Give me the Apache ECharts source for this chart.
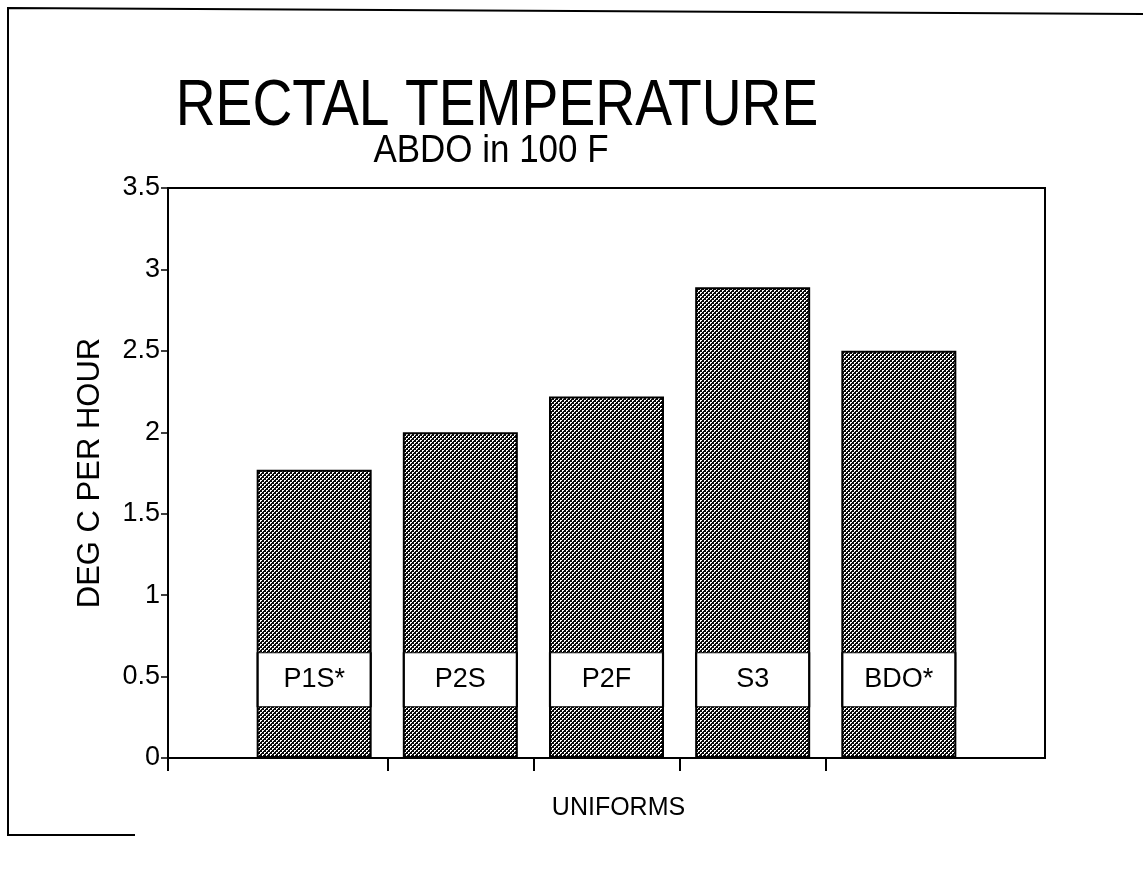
<!DOCTYPE html>
<html>
<head>
<meta charset="utf-8">
<script src="https://cdn.jsdelivr.net/npm/echarts@6/dist/echarts.min.js"></script>
<style>
  html, body { margin: 0; padding: 0; background: #fff; }
  #chart { width: 1143px; height: 869px; }
</style>
</head>
<body>
<div id="chart"></div>
<script>
// data
const categories = ['P1S*', 'P2S', 'P2F', 'S3', 'BDO*'];
const rates = [1.77, 2.0, 2.22, 2.89, 2.5];
const labelLevel = 0.48;           // where the name boxes sit on the y scale
const yTicks = [0, 0.5, 1, 1.5, 2, 2.5, 3, 3.5];
const xTicks = [0, 1.5, 2.5, 3.5, 4.5];

const FONT = "'Liberation Sans', Arial, sans-serif";

// dark dither fill like the printed bars
function ditherPattern() {
    const c = document.createElement('canvas');
    c.width = 4; c.height = 4;
    const g = c.getContext('2d');
    g.fillStyle = '#0a0a0a';
    g.fillRect(0, 0, 4, 4);
    g.fillStyle = '#fff';
    g.fillRect(0, 0, 2, 1);
    g.fillRect(0, 1, 1, 1);
    g.fillRect(2, 2, 2, 1);
    g.fillRect(2, 3, 1, 1);
    return c;
}

const myChart = echarts.init(document.getElementById('chart'));
const option = {
    animation: false,
    backgroundColor: '#fff',
    textStyle: { fontFamily: FONT, color: '#000' },
    grid: {
        left: 168, right: 98, top: 188, bottom: 111,
        show: true, borderColor: '#000', borderWidth: 2, backgroundColor: 'transparent'
    },
    xAxis: {
        type: 'value', min: 0, max: 6,
        name: 'UNIFORMS', nameLocation: 'middle', nameGap: 38,
        nameTextStyle: { fontSize: 25, color: '#000', fontFamily: FONT, padding: [0, 0, 0, 24] },
        axisLine: { show: true, lineStyle: { color: '#000', width: 2 } },
        axisTick: { show: true, customValues: xTicks, length: 13, lineStyle: { color: '#000', width: 2 } },
        axisLabel: { show: false },
        splitLine: { show: false }
    },
    yAxis: {
        type: 'value', min: 0, max: 3.5, interval: 0.5,
        name: 'DEG C PER HOUR', nameLocation: 'middle', nameGap: 62, nameRotate: 90,
        nameTextStyle: { fontSize: 31, color: '#000', fontFamily: FONT },
        axisLine: { show: true, lineStyle: { color: '#000', width: 2 } },
        axisTick: { show: true, customValues: yTicks, length: 7, lineStyle: { color: '#000', width: 1.5 } },
        axisLabel: { customValues: yTicks, fontSize: 27, color: '#000', margin: 8, fontFamily: FONT },
        splitLine: { show: false }
    },
    graphic: [
        {
            type: 'polyline', silent: true,
            shape: { points: [[135, 835], [8, 835], [8, 8], [1143, 14]] },
            style: { stroke: '#000', lineWidth: 2, fill: null }
        },
        {
            type: 'text', x: 497, y: 75, scaleX: 0.85,
            style: {
                text: 'RECTAL TEMPERATURE', font: '65px ' + FONT, fill: '#000',
                textAlign: 'center', textVerticalAlign: 'top'
            }
        },
        {
            type: 'text', x: 491, y: 133, scaleX: 0.92,
            style: {
                text: 'ABDO in 100 F', font: '38px ' + FONT, fill: '#000',
                textAlign: 'center', textVerticalAlign: 'top'
            }
        }
    ],
    series: [
        {
            type: 'bar',
            barWidth: 115,
            data: rates.map((v, i) => [i + 1, v]),
            itemStyle: {
                color: { image: ditherPattern(), repeat: 'repeat' },
                borderColor: '#000', borderWidth: 2
            },
            z: 2
        },
        {
            type: 'scatter',
            symbol: 'rect',
            symbolSize: [113, 54],
            data: categories.map((c, i) => [i + 1, labelLevel]),
            itemStyle: { color: '#fff', borderColor: '#000', borderWidth: 1.5, opacity: 1 },
            label: {
                show: true, position: 'inside',
                formatter: p => categories[p.dataIndex],
                fontSize: 27, color: '#000', fontFamily: FONT
            },
            z: 3
        }
    ]
};
myChart.setOption(option);
window.addEventListener('resize', function () {
    myChart.resize();
});
</script>
</body>
</html>
